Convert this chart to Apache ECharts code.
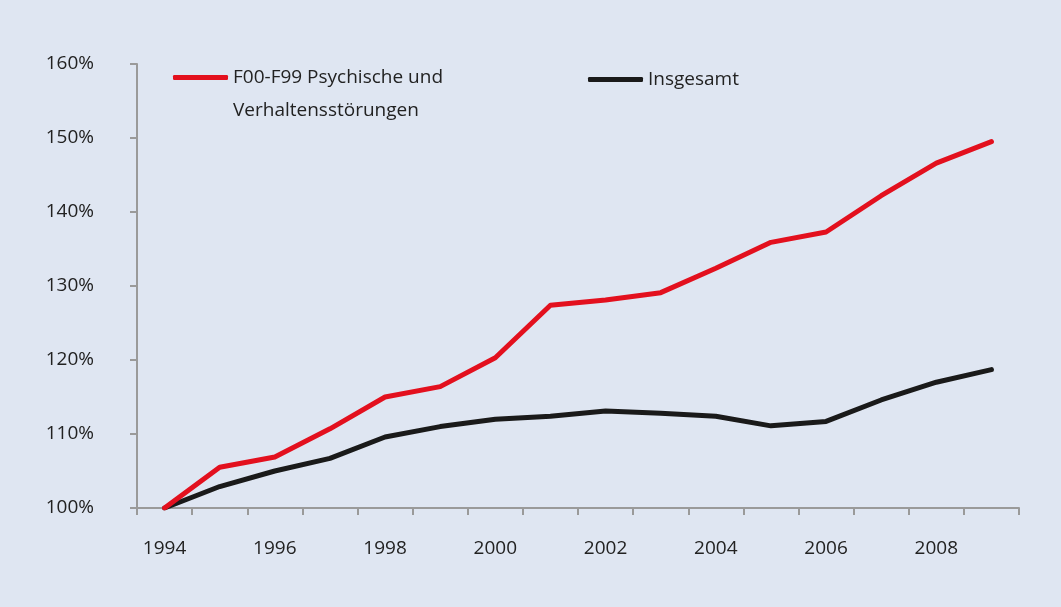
<!DOCTYPE html>
<html>
<head>
<meta charset="utf-8">
<script src="https://cdn.jsdelivr.net/npm/echarts@6/dist/echarts.min.js"></script>
<style>
  html, body { margin: 0; padding: 0; background: #dfe6f2; }
  #chart { width: 1061px; height: 607px; }
</style>
</head>
<body>
<div id="chart"></div>
<script>
// Jahre und Indexwerte (1994 = 100%)
var jahre = ['1994', '1995', '1996', '1997', '1998', '1999', '2000', '2001',
             '2002', '2003', '2004', '2005', '2006', '2007', '2008', '2009'];
var psychisch = [100, 105.5, 106.9, 110.7, 115.0, 116.4, 120.3, 127.4,
                 128.1, 129.1, 132.4, 135.9, 137.3, 142.2, 146.6, 149.5];
var insgesamt = [100, 102.9, 105.0, 106.7, 109.6, 111.0, 112.0, 112.4,
                 113.1, 112.8, 112.4, 111.1, 111.7, 114.6, 117.0, 118.7];
var namePsych = 'F00-F99 Psychische und\nVerhaltensstörungen';
var nameGesamt = 'Insgesamt';

var font = 'Open Sans';
var axisGrey = '#9a9a9a';
var fs = 19;

var chart = echarts.init(document.getElementById('chart'));

chart.setOption({
    backgroundColor: '#dfe6f2',
    animation: false,
    textStyle: { fontFamily: font, color: '#222' },
    grid: { left: 137, right: 42, top: 64, bottom: 99 },
    legend: [{
        data: [namePsych],
        left: 168,
        top: 23,
        icon: 'roundRect',
        itemWidth: 55,
        itemHeight: 5,
        // leere erste Zeile, damit die erste Textzeile auf Höhe der Linie steht
        formatter: function (name) { return '\n' + name; },
        textStyle: { fontFamily: font, fontSize: fs, color: '#222', lineHeight: 33 }
    }, {
        data: [nameGesamt],
        left: 583,
        top: 65,
        icon: 'roundRect',
        itemWidth: 55,
        itemHeight: 5,
        textStyle: { fontFamily: font, fontSize: fs, color: '#222' }
    }],
    xAxis: {
        type: 'category',
        data: jahre,
        boundaryGap: true,
        axisLine: { lineStyle: { color: axisGrey, width: 2 } },
        axisTick: { show: true, interval: 0, length: 7, lineStyle: { color: axisGrey, width: 2 } },
        axisLabel: { interval: 1, margin: 31, fontSize: fs, color: '#222', fontFamily: font },
        splitLine: { show: false }
    },
    yAxis: {
        type: 'value',
        min: 100,
        max: 160,
        interval: 10,
        axisLine: { show: true, lineStyle: { color: axisGrey, width: 2 } },
        axisTick: { show: true, length: 7, lineStyle: { color: axisGrey, width: 2 } },
        axisLabel: { margin: 43, fontSize: fs, color: '#222', fontFamily: font, formatter: '{value}%' },
        splitLine: { show: false }
    },
    series: [{
        name: namePsych,
        type: 'line',
        data: psychisch,
        showSymbol: false,
        color: '#e3101e',
        lineStyle: { width: 5, color: '#e3101e', cap: 'round', join: 'round' },
        z: 3
    }, {
        name: nameGesamt,
        type: 'line',
        data: insgesamt,
        showSymbol: false,
        color: '#1a1a1a',
        lineStyle: { width: 5, color: '#1a1a1a', cap: 'round', join: 'round' },
        z: 2
    }]
});

window.addEventListener('resize', function () {
    setTimeout(function () { chart.resize(); }, 200);
});
</script>
</body>
</html>
